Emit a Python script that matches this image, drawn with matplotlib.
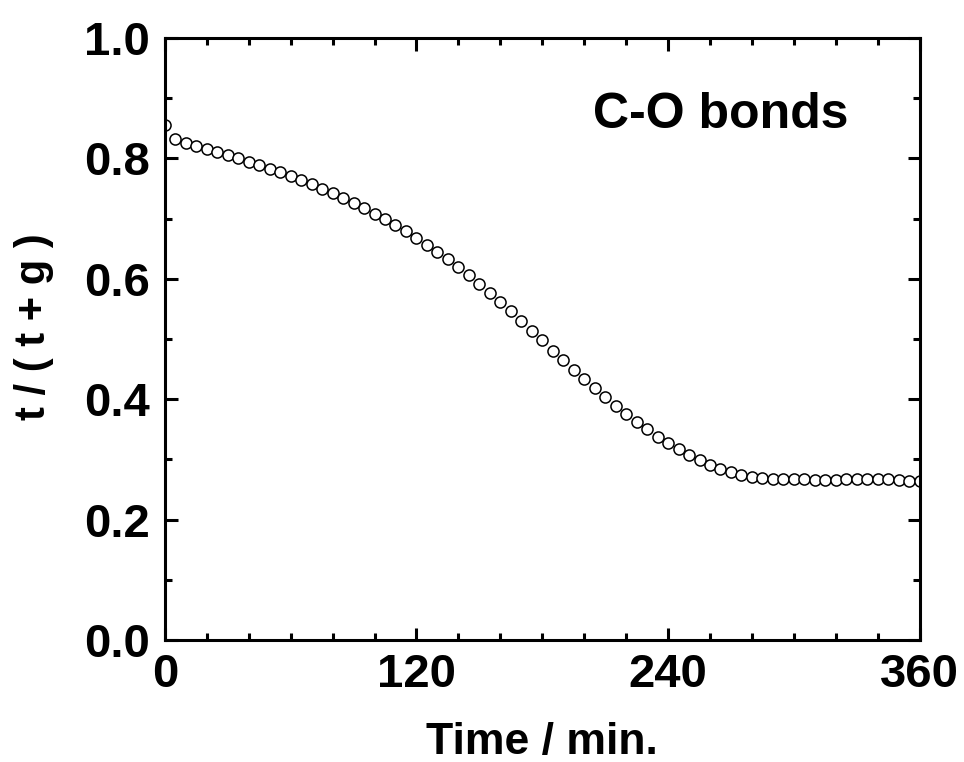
import numpy as np
import matplotlib.pyplot as plt
from matplotlib.ticker import MultipleLocator

# time in minutes, ratio t/(t+g)
time_min = np.arange(0, 361, 5)
ratio = [0.856, 0.833, 0.826, 0.821, 0.816, 0.811, 0.806, 0.800, 0.795, 0.789,
         0.783, 0.777, 0.771, 0.764, 0.757, 0.750, 0.742, 0.734, 0.726, 0.717,
         0.708, 0.699, 0.689, 0.679, 0.668, 0.657, 0.645, 0.633, 0.620, 0.606,
         0.592, 0.577, 0.562, 0.546, 0.530, 0.514, 0.498, 0.481, 0.465, 0.449,
         0.433, 0.418, 0.403, 0.389, 0.375, 0.362, 0.350, 0.338, 0.327, 0.317,
         0.307, 0.299, 0.291, 0.285, 0.279, 0.275, 0.271, 0.269, 0.268, 0.268,
         0.268, 0.267, 0.266, 0.266, 0.266, 0.267, 0.267, 0.267, 0.267, 0.267,
         0.266, 0.265, 0.265]

x_ticks = [0, 120, 240, 360]
y_ticks = [0.0, 0.2, 0.4, 0.6, 0.8, 1.0]

plt.rcParams['font.family'] = ['Liberation Sans', 'DejaVu Sans']
plt.rcParams['font.weight'] = 'bold'

fig = plt.figure(figsize=(9.64, 7.62), dpi=100)
ax = fig.add_axes([0.171, 0.160, 0.783, 0.790])

ax.plot(time_min, ratio, linestyle='none', marker='o', markersize=8,
        markerfacecolor='white', markeredgecolor='black', markeredgewidth=1.1)

ax.set_xlim(0, 360)
ax.set_ylim(0, 1.0)
ax.set_xticks(x_ticks)
ax.set_yticks(y_ticks)
ax.set_yticklabels(['%.1f' % v for v in y_ticks])
ax.xaxis.set_minor_locator(MultipleLocator(20))
ax.yaxis.set_minor_locator(MultipleLocator(0.1))

ax.tick_params(which='both', direction='in', top=True, right=True, width=2.2)
ax.tick_params(which='major', length=9)
ax.tick_params(which='minor', length=5)
ax.tick_params(axis='y', labelsize=34, pad=10.5)
# x tick numbers are narrower in the original
ax.tick_params(axis='x', labelsize=34, pad=9,
               labelfontfamily=['Liberation Sans Narrow', 'Liberation Sans'])
for s in ax.spines.values():
    s.set_linewidth(2.2)

ax.set_xlabel('Time / min.', fontsize=32, fontweight='bold', labelpad=18)
ax.set_ylabel('t / ( t + g )', fontsize=30, fontweight='bold')
ax.yaxis.set_label_coords(-0.147, 0.52)
ax.text(0.905, 0.873, 'C-O bonds', transform=ax.transAxes, ha='right', va='center',
        fontsize=36, fontweight='bold')

fig.savefig('out.png', dpi=100)
